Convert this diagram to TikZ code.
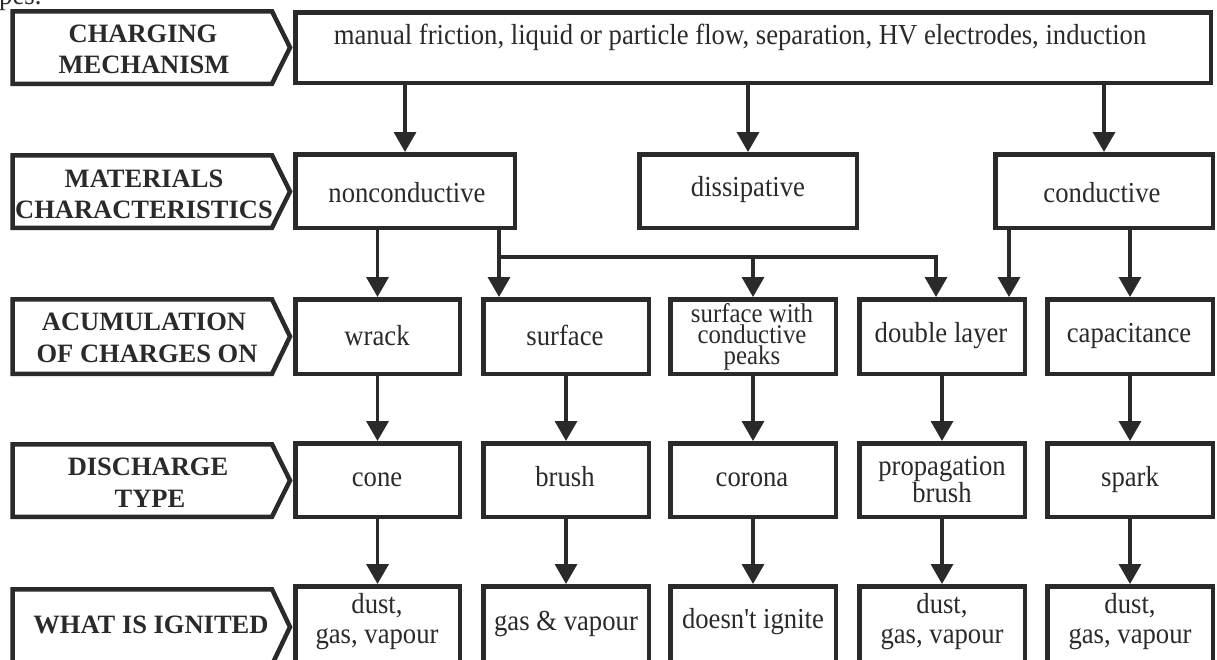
\documentclass[tikz,border=0pt]{standalone}
\usepackage{fontspec}
\setmainfont{Liberation Serif}
\newfontfamily\condfont{Liberation Serif}[FakeStretch=0.92, Ligatures=TeXOff]
\usetikzlibrary{arrows.meta}
\definecolor{ink}{HTML}{2A2A2A}
\newcommand\mkbox[5]{\node[box, minimum width={(#4-#2-4.5)*1pt}, minimum height={(#5-#3-4.5)*1pt}] (#1) at ({(#2+#4)/2},{(#3+#5)/2}) {};}
\newcommand\mktext[4]{\node[txt] (#1) at (#2,#3) {#4};}
\newcommand\mklab[4]{\node[labtxt] (#1) at (#2,#3) {#4};}
\newcommand\mkpent[3]{\draw[lab] (12.5,#1) -- (272,#1) -- (290,#3) -- (272,#2) -- (12.5,#2) -- cycle;}
\begin{document}
\begin{tikzpicture}[x=1pt,y=-1pt,
  box/.style={draw=ink, line width=4.5pt, inner sep=0pt, rectangle},
  lab/.style={draw=ink, line width=4.5pt, line join=miter},
  txt/.style={anchor=base, inner sep=0pt, text=ink, font=\condfont\fontsize{29}{29}\selectfont},
  smalltxt/.style={txt, font=\condfont\fontsize{27}{27}\selectfont},
  labtxt/.style={anchor=base, inner sep=0pt, text=ink, font=\fontsize{26.5}{30}\selectfont\bfseries},
  conn/.style={draw=ink, line width=3.5pt},
  arr/.style={conn, -{Triangle[length=20pt,width=22pt]}}]
\useasboundingbox (0,0) rectangle (1217,659);
\node[txt, anchor=base west] (frag) at (-1,4) {pes.};
% row labels
\mkpent{11.25}{83.75}{47.5}
\mkpent{155.25}{227.75}{191.5}
\mkpent{299.25}{373.75}{336.5}
\mkpent{444.25}{516.75}{480.5}
\mkpent{589.25}{664.75}{627}
\mklab{l1a}{143}{42}{CHARGING}
\mklab{l1b}{144}{73}{MECHANISM}
\mklab{l2a}{144}{187}{MATERIALS}
\mklab{l2b}{144}{218}{CHARACTERISTICS}
\mklab{l3a}{144}{330}{ACUMULATION}
\mklab{l3b}{147}{362}{OF CHARGES ON}
\mklab{l4a}{148}{475}{DISCHARGE}
\mklab{l4b}{150}{507}{TYPE}
\mklab{l5}{151}{633}{WHAT IS IGNITED}
% boxes
\mkbox{top}{293}{10}{1213}{85}
\mkbox{nonc}{293}{152}{517}{230}
\mkbox{diss}{637}{152}{859}{230}
\mkbox{cond}{993}{152}{1215}{230}
\mkbox{wrack}{293}{297}{462}{376}
\mkbox{surf}{481}{297}{651}{376}
\mkbox{peaks}{668}{297}{838}{376}
\mkbox{dl}{857}{297}{1027}{376}
\mkbox{cap}{1045}{297}{1215}{376}
\mkbox{cone}{293}{441}{462}{519}
\mkbox{brush}{481}{441}{651}{519}
\mkbox{corona}{668}{441}{838}{519}
\mkbox{prop}{857}{441}{1027}{519}
\mkbox{spark}{1045}{441}{1215}{519}
\mkbox{ig1}{293}{584}{462}{668}
\mkbox{ig2}{481}{584}{651}{668}
\mkbox{ig3}{668}{584}{838}{668}
\mkbox{ig4}{857}{584}{1027}{668}
\mkbox{ig5}{1045}{584}{1215}{668}
% texts
\mktext{ttop}{740}{44}{manual friction, liquid or particle flow, separation, HV electrodes, induction}
\mktext{tnonc}{407}{202}{nonconductive}
\mktext{tdiss}{748}{196}{dissipative}
\mktext{tcond}{1102}{202}{conductive}
\mktext{twrack}{377}{345}{wrack}
\mktext{tsurf}{565}{345}{surface}
\node[smalltxt] (tpk1) at (752,322) {surface with};
\node[smalltxt] (tpk2) at (752,343) {conductive};
\node[smalltxt] (tpk3) at (752,364) {peaks};
\mktext{tdl}{941}{342}{double layer}
\mktext{tcap}{1129}{342}{capacitance}
\mktext{tcone}{377}{486}{cone}
\mktext{tbrush}{565}{486}{brush}
\mktext{tcorona}{752}{486}{corona}
\mktext{tprop1}{942}{475}{propagation}
\mktext{tprop2}{942}{502}{brush}
\mktext{tspark}{1130}{486}{spark}
\mktext{tig1a}{377}{613}{dust,}
\mktext{tig1b}{377}{643}{gas, vapour}
\mktext{tig2}{566}{630}{gas \& vapour}
\mktext{tig3}{753}{628}{doesn't ignite}
\mktext{tig4a}{942}{613}{dust,}
\mktext{tig4b}{942}{643}{gas, vapour}
\mktext{tig5a}{1130}{613}{dust,}
\mktext{tig5b}{1130}{643}{gas, vapour}
% connectors
\coordinate (j1) at (499,257);
\coordinate (j2) at (936,257);
\coordinate (k1) at (1009,257);
\draw[arr] (top.south -| nonc.north) -- (nonc.north);
\draw[arr] (top.south -| diss.north) -- (diss.north);
\draw[arr] (top.south -| cond.north) -- (cond.north);
\draw[arr] (nonc.south -| wrack.north) -- (wrack.north);
\draw[arr] (nonc.south -| j1) -- (surf.north -| j1);
\draw[arr] (j1) -| (dl.north -| j2);
\draw[arr] (j1 -| peaks.north) -- (peaks.north);
\draw[arr] (cond.south -| k1) -- (dl.north -| k1);
\draw[arr] (cond.south -| cap.north) -- (cap.north);
\foreach \a/\b in {wrack/cone, surf/brush, peaks/corona, dl/prop, cap/spark, cone/ig1, brush/ig2, corona/ig3, prop/ig4, spark/ig5}
  \draw[arr] (\a.south) -- (\b.north);
\end{tikzpicture}
\end{document}
